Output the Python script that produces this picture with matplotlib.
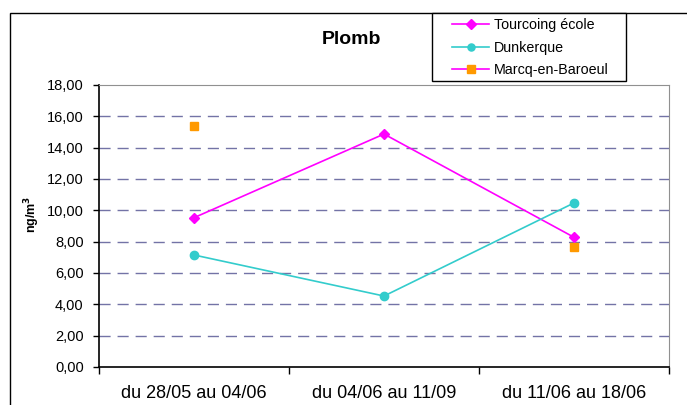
import matplotlib.pyplot as plt
from matplotlib.patches import Rectangle
import numpy as np

plt.rcParams['font.family'] = ['Liberation Sans', 'DejaVu Sans']

periods = ["du 28/05 au 04/06", "du 04/06 au 11/09", "du 11/06 au 18/06"]
tourcoing = [9.53, 14.87, 8.28]
dunkerque = [7.15, 4.53, 10.47]
marcq = [15.36, np.nan, 7.64]
yticks = [0, 2, 4, 6, 8, 10, 12, 14, 16, 18]

W, H = 687, 405
fig = plt.figure(figsize=(W / 100, H / 100), dpi=100)

# outer frame of the chart
fig.patches.append(Rectangle((10 / W, -0.1), 1.2, 1.1 - 13 / H + 0.001,
                             transform=fig.transFigure, fill=False,
                             edgecolor="black", linewidth=1.0, clip_on=False))

ax = fig.add_axes([99 / W, 38 / H, 570 / W, 282 / H])

x = np.arange(len(periods))
ax.plot(x, tourcoing, color="#ff00ff", lw=1.2, marker="D", ms=5.5,
        label="Tourcoing école")
ax.plot(x, dunkerque, color="#33cccc", lw=1.2, marker="o", ms=6,
        label="Dunkerque")
ax.plot(x, marcq, color="#ff00ff", lw=1.2, marker="s", ms=6,
        markerfacecolor="#ff9900", markeredgecolor="#ff9900",
        label="Marcq-en-Baroeul")

ax.set_xlim(-0.5, len(periods) - 0.5)
ax.set_ylim(0, 18)
ax.set_yticks(yticks)
ax.yaxis.set_major_formatter(plt.FuncFormatter(lambda v, p: ("%.2f" % v).replace(".", ",")))
ax.set_xticks(np.arange(len(periods) + 1) - 0.5)
ax.set_xticklabels([])
ax.set_xticks(x, minor=True)
ax.set_xticklabels(periods, minor=True, fontsize=13)
ax.tick_params(axis="x", which="minor", length=0, pad=13)
ax.tick_params(axis="x", which="major", direction="out", length=5, width=1)
ax.tick_params(axis="y", direction="out", length=4, width=1, labelsize=10.5, pad=7)

for v in yticks[1:-1]:
    ax.axhline(v, color="#7373a6", lw=1, dashes=(8, 5), zorder=0)

for s in ["top", "right"]:
    ax.spines[s].set_color("#909090")
for s in ["left", "bottom"]:
    ax.spines[s].set_color("black")
    ax.spines[s].set_linewidth(1.2)

ax.set_ylabel("ng/m$^\\mathbf{3}$", fontweight="bold", fontsize=9)
ax.yaxis.set_label_coords(-0.1, 0.54)

fig.text(351 / W, 1 - 40 / H, "Plomb", fontsize=14, fontweight="bold",
         ha="center", va="center")

# legend box drawn by hand, entries placed inside it
fig.patches.append(Rectangle((432 / W, 1 - 81 / H), 194 / W, 68 / H,
                             transform=fig.transFigure, facecolor="white",
                             edgecolor="black", linewidth=1.0, zorder=4))
handles, labels = ax.get_legend_handles_labels()
leg = fig.legend(handles, labels, loc="upper left",
                 bbox_to_anchor=(452 / W, 1 - 18 / H),
                 fontsize=10.3, frameon=False, markerscale=0.85,
                 handlelength=2.6, borderpad=0, labelspacing=0.6,
                 handletextpad=0.35, borderaxespad=0)
leg.set_zorder(6)

fig.savefig("out.png", dpi=100)
